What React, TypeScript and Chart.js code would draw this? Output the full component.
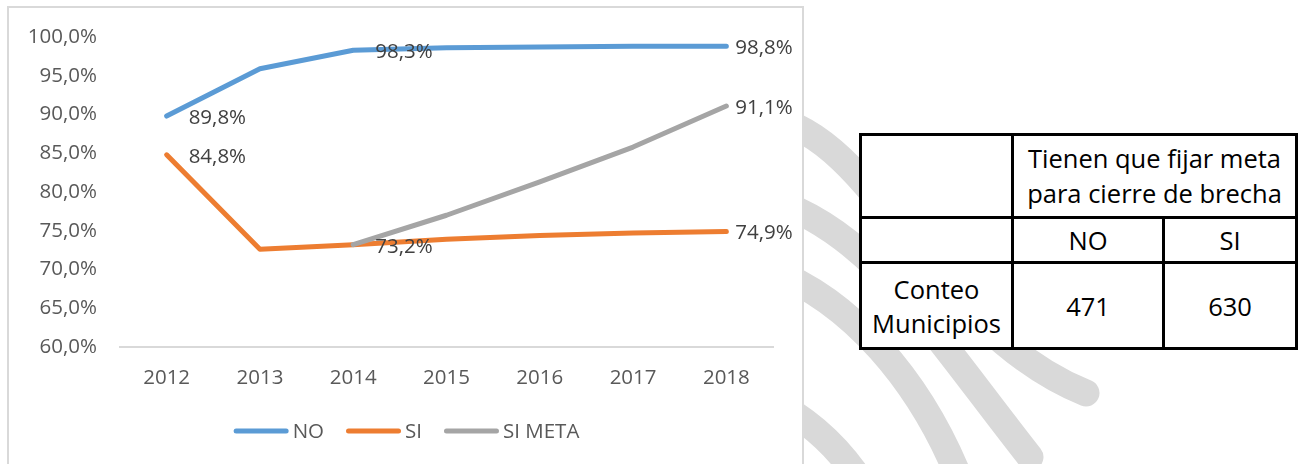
import React, { useEffect, useRef } from "react";
import { Chart, registerables } from "chart.js";

Chart.register(...registerables);

// ---------- data ----------
const YEARS = ["2012", "2013", "2014", "2015", "2016", "2017", "2018"];
const NO_VALUES = [89.8, 95.9, 98.3, 98.6, 98.7, 98.8, 98.8];
const SI_VALUES = [84.8, 72.6, 73.2, 73.9, 74.4, 74.7, 74.9];
const SI_META_VALUES = [null, null, 73.2, 77.0, 81.3, 85.8, 91.1];
const SERIES_NAMES = ["NO", "SI", "SI META"];
const NO_LABELED = [0, 2, 6];
const SI_LABELED = [0, 2, 6];
const SI_META_LABELED = [6];
const Y_MIN = 60;
const Y_MAX = 100;
const Y_STEP = 5;

const TABLE_HEADER_LINES = ["Tienen que fijar meta", "para cierre de brecha"];
const TABLE_COLS = ["NO", "SI"];
const TABLE_ROW_LABEL_LINES = ["Conteo", "Municipios"];
const TABLE_COUNTS = [471, 630];

// ---------- styles ----------
const FONT = "'Open Sans', 'DejaVu Sans', sans-serif";
const FONT_SIZE = 20.5;
const COLORS = ["#5B9BD5", "#ED7D31", "#A5A5A5"];
const TICK_COLOR = "#595959";
const LABEL_COLOR = "#404040";

const fmt = (v: number) => v.toFixed(1).replace(".", ",") + "%";

const labelPlugin = {
  id: "pointLabels",
  afterDatasetsDraw(chart: any) {
    const ctx = chart.ctx;
    const labeled = [NO_LABELED, SI_LABELED, SI_META_LABELED];
    ctx.save();
    ctx.font = `${FONT_SIZE}px ${FONT}`;
    ctx.fillStyle = LABEL_COLOR;
    ctx.textBaseline = "middle";
    ctx.textAlign = "left";
    labeled.forEach((idxs, di) => {
      const meta = chart.getDatasetMeta(di);
      idxs.forEach((i) => {
        const el = meta.data[i];
        const v = chart.data.datasets[di].data[i];
        if (!el || v == null) return;
        const dx = i === YEARS.length - 1 ? 9 : 22;
        ctx.fillText(fmt(v), el.x + dx, el.y + 2);
      });
    });
    ctx.restore();
  },
};

const legendPlugin = {
  id: "customLegend",
  afterDraw(chart: any) {
    const ctx = chart.ctx;
    ctx.save();
    ctx.font = `${FONT_SIZE}px ${FONT}`;
    const lineLen = 55;
    const gapText = 4;
    const gapItem = 22;
    const widths = SERIES_NAMES.map((n) => lineLen + gapText + ctx.measureText(n).width);
    const total = widths.reduce((a, b) => a + b, 0) + gapItem * (SERIES_NAMES.length - 1);
    let x = chart.width / 2 + 1 - total / 2;
    const y = 423;
    SERIES_NAMES.forEach((n, i) => {
      ctx.strokeStyle = COLORS[i];
      ctx.lineWidth = 5;
      ctx.lineCap = "round";
      ctx.beginPath();
      ctx.moveTo(x + 2.5, y);
      ctx.lineTo(x + lineLen - 2.5, y);
      ctx.stroke();
      ctx.fillStyle = TICK_COLOR;
      ctx.textBaseline = "middle";
      ctx.textAlign = "left";
      ctx.fillText(n, x + lineLen + gapText, y + 1);
      x += widths[i] + gapItem;
    });
    ctx.restore();
  },
};

function LineChart() {
  const ref = useRef<HTMLCanvasElement | null>(null);
  useEffect(() => {
    if (!ref.current) return;
    const mk = (i: number, data: any[], order: number) => ({
      label: SERIES_NAMES[i],
      data,
      borderColor: COLORS[i],
      backgroundColor: COLORS[i],
      borderWidth: 5,
      borderCapStyle: "round" as const,
      borderJoinStyle: "round" as const,
      pointRadius: 0,
      pointHoverRadius: 0,
      tension: 0,
      spanGaps: false,
      order,
    });
    const chart = new Chart(ref.current, {
      type: "line",
      data: {
        labels: YEARS,
        datasets: [mk(0, NO_VALUES, 2), mk(1, SI_VALUES, 1), mk(2, SI_META_VALUES, 0)],
      },
      options: {
        animation: false,
        responsive: false,
        devicePixelRatio: 1,
        layout: { autoPadding: false, padding: { top: 29, right: 29, bottom: 67, left: 0 } },
        plugins: { legend: { display: false }, tooltip: { enabled: false } },
        scales: {
          x: {
            offset: true,
            grid: { display: false, drawTicks: false, tickLength: 0 },
            border: { display: true, color: "#D9D9D9", width: 2 },
            ticks: { padding: 19, color: TICK_COLOR, font: { family: FONT, size: FONT_SIZE } },
            afterFit: (s: any) => {
              s.height = 50;
              s.paddingLeft = 0;
              s.paddingRight = 0;
            },
          },
          y: {
            min: Y_MIN,
            max: Y_MAX,
            grid: { display: false, drawTicks: false, tickLength: 0 },
            border: { display: false },
            ticks: {
              stepSize: Y_STEP,
              padding: 23,
              color: TICK_COLOR,
              font: { family: FONT, size: FONT_SIZE },
              callback: (v: any) => fmt(Number(v)),
            },
            afterFit: (s: any) => {
              s.width = 111;
              s.paddingTop = 0;
              s.paddingBottom = 0;
            },
          },
        },
      },
      plugins: [labelPlugin, legendPlugin],
    });
    return () => chart.destroy();
  }, []);
  return <canvas ref={ref} width={793} height={456} style={{ display: "block", width: 793, height: 456 }} />;
}

const cell: React.CSSProperties = {
  border: "3px solid #000",
  textAlign: "center",
  verticalAlign: "middle",
  padding: 0,
  background: "#fff",
};

export default function App() {
  useEffect(() => {
    document.body.style.overflow = "hidden";
  }, []);
  return (
    <div style={{ position: "absolute", left: 0, top: 0, width: 1298, height: 464, overflow: "hidden", background: "#fff" }}>
      <svg width={1298} height={464} style={{ position: "absolute", left: 0, top: 0 }}>
        <g fill="none" stroke="#D9D9D9" strokeWidth={27} strokeLinecap="round">
          <path d="M 770 118 C 880 140, 930 330, 1086 393" />
          <path d="M 770 200 C 870 230, 930 330, 1030 457" />
          <path d="M 770 270 C 850 300, 920 380, 960 480" />
          <path d="M 770 400 C 810 420, 840 450, 860 480" />
        </g>
      </svg>
      <div
        style={{
          position: "absolute",
          left: 7,
          top: 6,
          width: 797,
          height: 458,
          boxSizing: "border-box",
          border: "2px solid #D9D9D9",
          borderBottom: "none",
          background: "#fff",
        }}
      >
        <LineChart />
      </div>
      <table
        style={{
          position: "absolute",
          left: 859,
          top: 133,
          width: 436,
          height: 214,
          borderCollapse: "collapse",
          fontFamily: FONT,
          fontSize: 25.5,
          color: "#000",
          tableLayout: "fixed",
        }}
      >
        <colgroup>
          <col style={{ width: 152 }} />
          <col style={{ width: 151 }} />
          <col style={{ width: 133 }} />
        </colgroup>
        <tbody>
          <tr style={{ height: 83 }}>
            <td style={cell}></td>
            <td style={{ ...cell, lineHeight: "35px" }} colSpan={2}>
              {TABLE_HEADER_LINES[0]}
              <br />
              {TABLE_HEADER_LINES[1]}
            </td>
          </tr>
          <tr style={{ height: 45 }}>
            <td style={cell}></td>
            <td style={cell}>{TABLE_COLS[0]}</td>
            <td style={cell}>{TABLE_COLS[1]}</td>
          </tr>
          <tr style={{ height: 86 }}>
            <td style={{ ...cell, lineHeight: "34px" }}>
              {TABLE_ROW_LABEL_LINES[0]}
              <br />
              {TABLE_ROW_LABEL_LINES[1]}
            </td>
            <td style={cell}>{TABLE_COUNTS[0]}</td>
            <td style={cell}>{TABLE_COUNTS[1]}</td>
          </tr>
        </tbody>
      </table>
    </div>
  );
}
